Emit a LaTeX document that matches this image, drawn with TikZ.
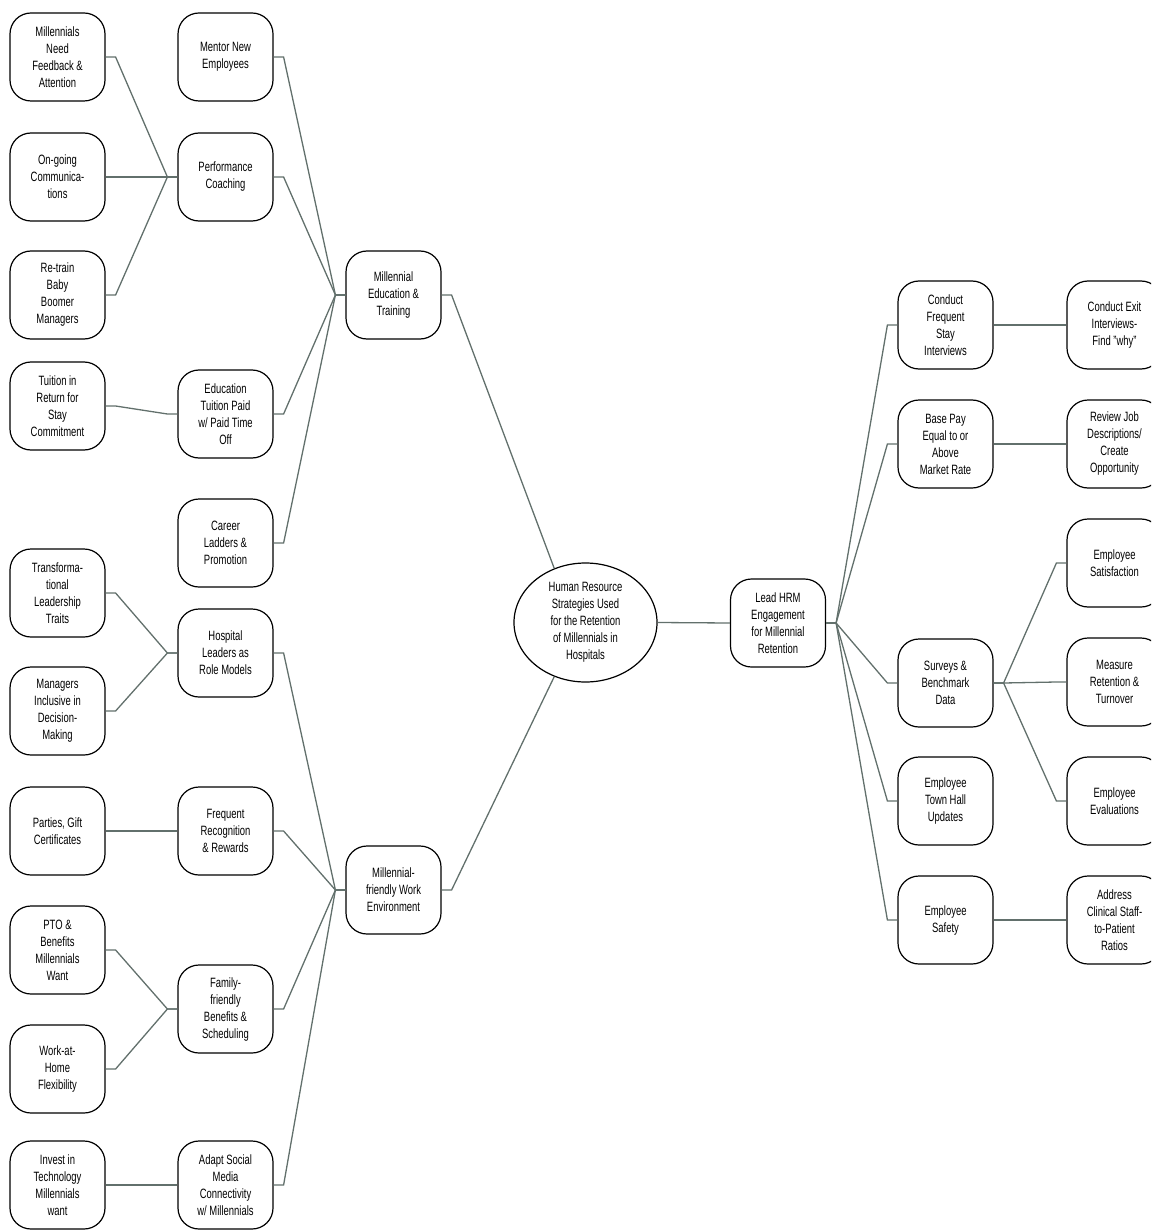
\documentclass[tikz,border=0pt]{standalone}
\usepackage{fontspec}
\setmainfont[FakeStretch=0.7]{Liberation Sans}
\usepackage{xcolor}
\usepackage{tikz}
\usetikzlibrary{shapes.geometric,calc}
\definecolor{linkgray}{RGB}{98,112,108}

\begin{document}
\begin{tikzpicture}[x=1pt, y=-1pt,
    box/.style={draw, line width=1.2pt, rounded corners=21pt, minimum width=95pt, minimum height=88pt,
        inner sep=0pt, align=center, font=\fontsize{13.5}{17}\selectfont},
    hub/.style={draw, ellipse, line width=1.2pt, minimum width=143pt, minimum height=119pt,
        inner sep=0pt, align=center, font=\fontsize{13.5}{17}\selectfont},
    link/.style={draw=linkgray, line width=1.3pt,
        to path={-- ++(10,0) -- ($(\tikztotarget)+(-10,0)$) -- (\tikztotarget)}}]
    \clip (0,0) rectangle (1151,1230);

    % left leaves
    \node[box] (fb)      at (57.5,57)   {Millennials\\Need\\Feedback \&\\Attention};
    \node[box] (comm)    at (57.5,177)  {On-going\\Communica-\\tions};
    \node[box] (retrain) at (57.5,295)  {Re-train\\Baby\\Boomer\\Managers};
    \node[box] (tuit)    at (57.5,406)  {Tuition in\\Return for\\Stay\\Commitment};
    \node[box] (trans)   at (57.5,593)  {Transforma-\\tional\\Leadership\\Traits};
    \node[box] (incl)    at (57.5,711)  {Managers\\Inclusive in\\Decision-\\Making};
    \node[box] (party)   at (57.5,831)  {Parties, Gift\\Certificates};
    \node[box] (pto)     at (57.5,950)  {PTO \&\\Benefits\\Millennials\\Want};
    \node[box] (wah)     at (57.5,1069) {Work-at-\\Home\\Flexibility};
    \node[box] (tech)    at (57.5,1185) {Invest in\\Technology\\Millennials\\want};

    \node[box] (mentor)  at (225.5,57)   {Mentor New\\Employees};
    \node[box] (coach)   at (225.5,177)  {Performance\\Coaching};
    \node[box] (paid)    at (225.5,414)  {Education\\Tuition Paid\\w/ Paid Time\\Off};
    \node[box] (ladder)  at (225.5,543)  {Career\\Ladders \&\\Promotion};
    \node[box] (leaders) at (225.5,653)  {Hospital\\Leaders as\\Role Models};
    \node[box] (recog)   at (225.5,831)  {Frequent\\Recognition\\\& Rewards};
    \node[box] (family)  at (225.5,1009) {Family-\\friendly\\Benefits \&\\Scheduling};
    \node[box] (social)  at (225.5,1185) {Adapt Social\\Media\\Connectivity\\w/ Millennials};

    \node[box] (edu)  at (393.5,295) {Millennial\\Education \&\\Training};
    \node[box] (work) at (393.5,890) {Millennial-\\friendly Work\\Environment};

    % centre
    \node[hub] (hr)   at (585.5,622.5) {Human Resource\\Strategies Used\\for the Retention\\of Millennials in\\Hospitals};
    \node[box] (lead) at (778,623) {Lead HRM\\Engagement\\for Millennial\\Retention};

    % right side
    \node[box] (stay)   at (945.5,325) {Conduct\\Frequent\\Stay\\Interviews};
    \node[box] (pay)    at (945.5,444) {Base Pay\\Equal to or\\Above\\Market Rate};
    \node[box] (survey) at (945.5,683) {Surveys \&\\Benchmark\\Data};
    \node[box] (town)   at (945.5,801) {Employee\\Town Hall\\Updates};
    \node[box] (safety) at (945.5,920) {Employee\\Safety};

    \node[box] (exit)  at (1114.5,325) {Conduct Exit\\Interviews-\\Find "why"};
    \node[box] (jobs)  at (1114.5,444) {Review Job\\Descriptions/\\Create\\Opportunity};
    \node[box] (satis) at (1114.5,563) {Employee\\Satisfaction};
    \node[box] (turn)  at (1114.5,682) {Measure\\Retention \&\\Turnover};
    \node[box] (evals) at (1114.5,801) {Employee\\Evaluations};
    \node[box] (ratio) at (1114.5,920) {Address\\Clinical Staff-\\to-Patient\\Ratios};

    \foreach \a/\b in {fb/coach, comm/coach, retrain/coach, tuit/paid, trans/leaders, incl/leaders,
            party/recog, pto/family, wah/family, tech/social,
            mentor/edu, coach/edu, paid/edu, ladder/edu,
            leaders/work, recog/work, family/work, social/work,
            lead/stay, lead/pay, lead/survey, lead/town, lead/safety,
            stay/exit, pay/jobs, survey/satis, survey/turn, survey/evals, safety/ratio}
        \draw[link] (\a.east) to (\b.west);

    \draw[linkgray, line width=1.3pt] (edu.east) -- ++(10,0) -- (hr.120);
    \draw[linkgray, line width=1.3pt] (work.east) -- ++(10,0) -- (hr.240);
    \draw[linkgray, line width=1.3pt] (hr.east) -- (lead.west);
\end{tikzpicture}
\end{document}
